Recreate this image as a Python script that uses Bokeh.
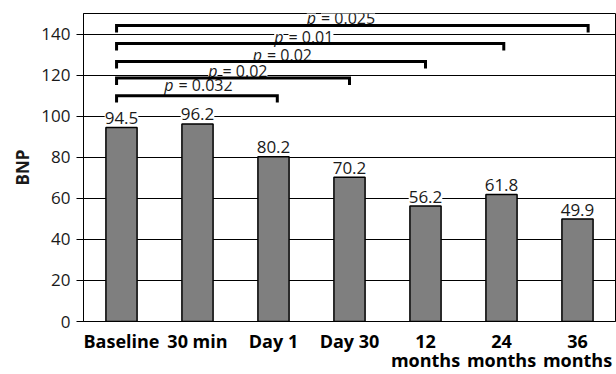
from bokeh.plotting import figure
from bokeh.models import ColumnDataSource, LabelSet, FixedTicker, Range1d, LinearAxis
from bokeh.core.properties import value
from bokeh.embed import file_html
from bokeh.resources import INLINE

# ---- data ----
categories_line1 = ["Baseline", "30 min", "Day 1", "Day 30", "12", "24", "36"]
categories_line2 = ["", "", "", "", "months", "months", "months"]
bnp_values = [94.5, 96.2, 80.2, 70.2, 56.2, 61.8, 49.9]
y_ticks = [0, 20, 40, 60, 80, 100, 120, 140]

# significance brackets: from Baseline to the compared time point
bracket_left_x = [-0.065, -0.065, -0.065, -0.065, -0.065]
bracket_right_x = [2.05, 3.0, 4.0, 5.03, 6.14]
bracket_y = [110.0, 118.6, 126.6, 135.4, 144.2]
bracket_tick = 3.4
p_values = ["0.032", "0.02", "0.02", "0.01", "0.025"]
p_label_x = [0.717, 1.296, 1.882, 2.164, 2.592]
p_label_y = [112.3, 119.2, 127.0, 135.8, 145.0]
p_label_masks_line = [0, 1, 0, 1, 1]   # labels that sit on a grid/frame line

FONT = "Open Sans"
TXT = "#1a1a1a"

x_idx = list(range(len(categories_line1)))

p = figure(width=616, height=374, output_backend="svg", toolbar_location=None,
           x_range=Range1d(-0.5, len(x_idx) - 0.5), y_range=Range1d(0, 150))
p.min_border = 0
p.min_border_left = 83
p.min_border_right = 1
p.min_border_top = 13
p.min_border_bottom = 53
p.outline_line_color = "black"
p.outline_line_width = 1
p.background_fill_color = "white"

# grid
p.xgrid.grid_line_color = None
p.ygrid.grid_line_color = "black"
p.ygrid.grid_line_width = 1
p.ygrid.ticker = FixedTicker(ticks=y_ticks)

# y axis
p.yaxis.ticker = FixedTicker(ticks=y_ticks)
p.yaxis.axis_label = "BNP"
p.yaxis.axis_label_text_font = FONT
p.yaxis.axis_label_text_font_style = "bold"
p.yaxis.axis_label_text_font_size = "17px"
p.yaxis.axis_label_text_color = TXT
p.yaxis.axis_label_standoff = 4
p.yaxis.major_label_text_font = FONT
p.yaxis.major_label_text_font_size = "17px"
p.yaxis.major_label_text_color = TXT
p.yaxis.major_tick_out = 7
p.yaxis.major_tick_in = 0
p.yaxis.minor_tick_line_color = None
p.yaxis.major_label_standoff = 6
p.yaxis.axis_line_color = "black"
p.yaxis.major_tick_line_color = "black"

# x axis (first line of category labels)
xa = p.xaxis[0]
xa.ticker = FixedTicker(ticks=x_idx)
xa.major_label_overrides = {i: c for i, c in zip(x_idx, categories_line1)}
xa.major_label_text_font = FONT
xa.major_label_text_font_style = "bold"
xa.major_label_text_font_size = "18px"
xa.major_label_text_color = "black"
xa.major_tick_out = 0
xa.major_tick_in = 0
xa.minor_tick_line_color = None
xa.major_label_standoff = 7
xa.axis_line_color = "black"

# second line of category labels
ticks2 = [i for i, c in zip(x_idx, categories_line2) if c]
xa2 = LinearAxis(ticker=FixedTicker(ticks=ticks2),
                 major_label_overrides={i: categories_line2[i] for i in ticks2},
                 major_label_text_font=FONT, major_label_text_font_style="bold",
                 major_label_text_font_size="18px", major_label_text_color="black",
                 major_tick_out=0, major_tick_in=0, minor_tick_line_color=None,
                 major_label_standoff=-8, axis_line_color=None)
p.add_layout(xa2, "below")

# bars
src = ColumnDataSource(dict(x=x_idx, top=bnp_values, lab=[f"{v:.1f}" for v in bnp_values]))
p.vbar(x="x", top="top", width=0.41, source=src, fill_color="#7f7f7f",
       line_color="black", line_width=1.5)

p.add_layout(LabelSet(x="x", y="top", text="lab", source=src, text_align="center",
                      text_baseline="alphabetic", y_offset=3.5, text_font=value(FONT),
                      text_font_size=value("17px"), text_color=TXT,
                      background_fill_color="white"))

# p-value labels
psrc = ColumnDataSource(dict(x=p_label_x, y=p_label_y, p=["p"] * len(p_values),
                             rest=[f"= {v}" for v in p_values],
                             bg=[float(m) for m in p_label_masks_line]))
p.add_layout(LabelSet(x="x", y="y", text="p", source=psrc, text_align="right",
                      text_baseline="alphabetic", x_offset=-2.5, text_font=value(FONT),
                      text_font_style="italic", text_font_size=value("16px"), text_color=TXT,
                      background_fill_color="white", background_fill_alpha="bg"))
p.add_layout(LabelSet(x="x", y="y", text="rest", source=psrc, text_align="left",
                      text_baseline="alphabetic", x_offset=2.5, text_font=value(FONT),
                      text_font_size=value("16px"), text_color=TXT,
                      background_fill_color="white", background_fill_alpha="bg"))

# brackets
bx = [[l, l, r, r] for l, r in zip(bracket_left_x, bracket_right_x)]
by = [[y - bracket_tick, y, y, y - bracket_tick] for y in bracket_y]
br = p.multi_line(xs=bx, ys=by, line_color="black", line_width=3, line_join="miter")
br.level = "overlay"

open("out.html", "w").write(file_html(p, INLINE))
